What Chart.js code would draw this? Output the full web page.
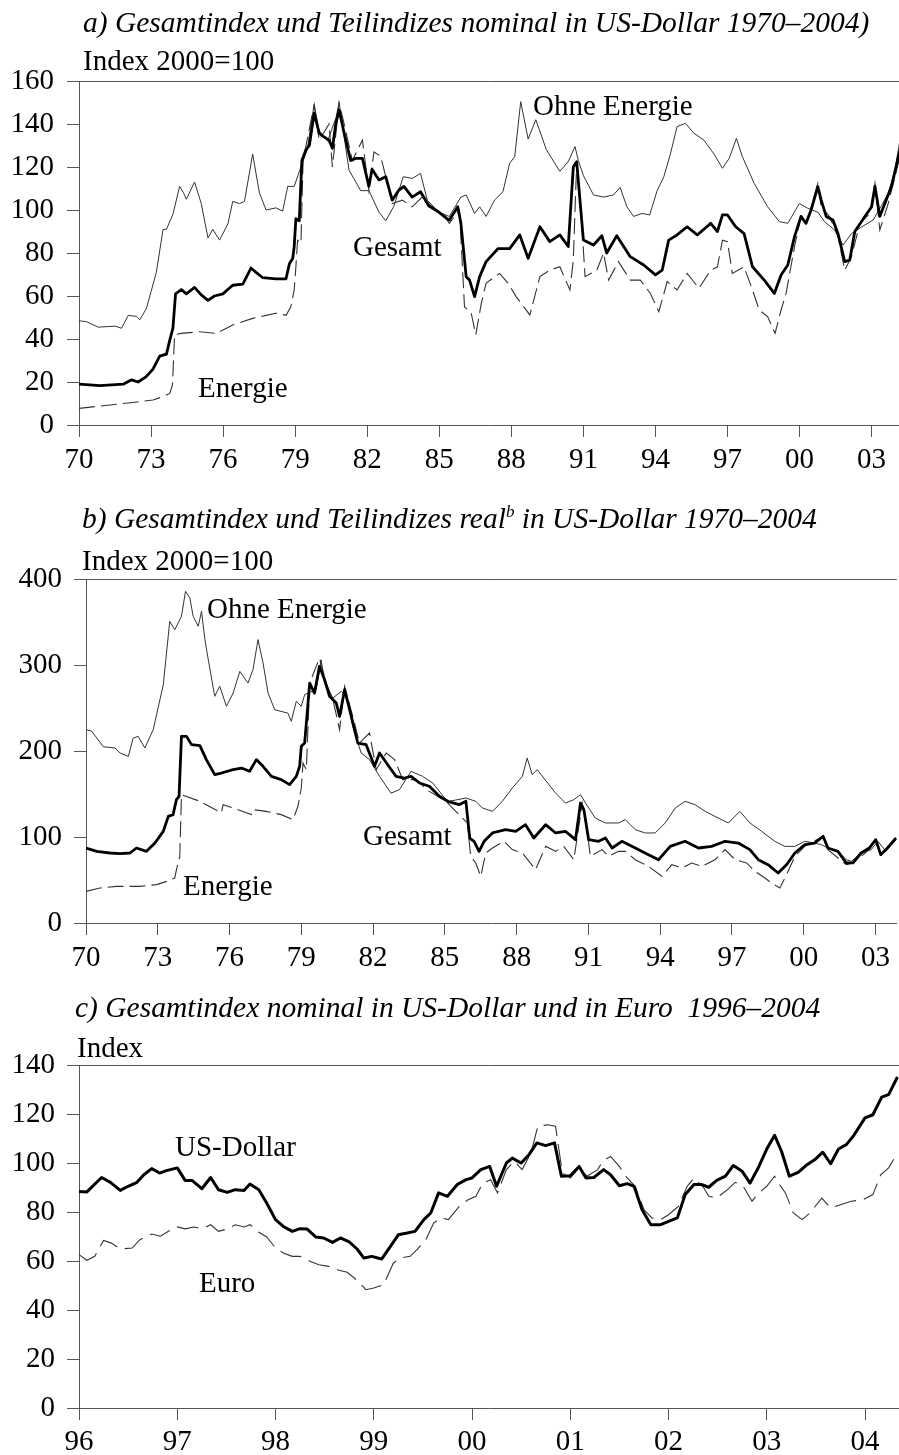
<!DOCTYPE html>
<html>
<head>
<meta charset="utf-8">
<script src="https://cdn.jsdelivr.net/npm/chart.js@4.4.1/dist/chart.umd.min.js"></script>
<style>
  body { margin: 0; background: #fff; width: 899px; height: 1455px; position: relative; overflow: hidden;
         font-family: "Liberation Serif", "Times New Roman", serif; color: #000; }
  canvas { position: absolute; left: 0; }
  .t { position: absolute; white-space: nowrap; line-height: 1; font-size: 29px; }
  .ti { font-style: italic; font-size: 29.5px; }
  .ti sup { font-size: 17px; vertical-align: 0; position: relative; top: -11px; }
</style>
</head>
<body>
<canvas id="chartA" width="899" height="480" style="top:0"></canvas>
<canvas id="chartB" width="899" height="500" style="top:480px"></canvas>
<canvas id="chartC" width="899" height="475" style="top:980px"></canvas>

<div class="t ti" style="left:83px;top:8px">a) Gesamtindex und Teilindizes nominal in US-Dollar 1970–2004)</div>
<div class="t" style="left:83px;top:46px">Index 2000=100</div>
<div class="t" style="left:533px;top:91px">Ohne Energie</div>
<div class="t" style="left:353px;top:232px">Gesamt</div>
<div class="t" style="left:198px;top:373px">Energie</div>

<div class="t ti" style="left:82px;top:504px">b) Gesamtindex und Teilindizes real<sup>b</sup> in US-Dollar 1970–2004</div>
<div class="t" style="left:82px;top:546px">Index 2000=100</div>
<div class="t" style="left:207px;top:594px">Ohne Energie</div>
<div class="t" style="left:363px;top:821px">Gesamt</div>
<div class="t" style="left:183px;top:871px">Energie</div>

<div class="t ti" style="left:75px;top:993px">c) Gesamtindex nominal in US-Dollar und in Euro&nbsp; 1996–2004</div>
<div class="t" style="left:77px;top:1033px">Index</div>
<div class="t" style="left:175px;top:1132px">US-Dollar</div>
<div class="t" style="left:199px;top:1268px">Euro</div>

<script>
// tick years
const yearTicksLong = [1970, 1973, 1976, 1979, 1982, 1985, 1988, 1991, 1994, 1997, 2000, 2003];
const yearTicksShort = [1996, 1997, 1998, 1999, 2000, 2001, 2002, 2003, 2004];

// a) nominal, [year, index]
const gesamtNominal = [[1970.0,19],[1970.87,18.3],[1971.84,19],[1972.19,21],[1972.46,20],[1972.8,22.5],[1973.08,26],[1973.36,32],[1973.64,33],[1973.78,39.5],[1973.91,45],[1974.02,61],[1974.26,63],[1974.47,61],[1974.81,64],[1975.09,60.5],[1975.37,58],[1975.64,60],[1975.99,61],[1976.4,65],[1976.82,65.5],[1977.16,73],[1977.37,71],[1977.65,68.5],[1978.2,68],[1978.62,68],[1978.76,75],[1978.9,77.5],[1978.96,83],[1979.03,96],[1979.17,95],[1979.28,123],[1979.45,128],[1979.59,130],[1979.79,145],[1980.0,135.7],[1980.2,134],[1980.41,132.5],[1980.55,128.7],[1980.69,140],[1980.83,146.5],[1981.04,135.7],[1981.31,123],[1981.52,124],[1981.8,124],[1982.07,111],[1982.2,119],[1982.49,114],[1982.77,115.5],[1983.04,104.6],[1983.32,109.3],[1983.53,111],[1983.87,106],[1984.22,108.5],[1984.56,102],[1984.98,99],[1985.32,96],[1985.42,95.3],[1985.77,101.5],[1985.9,93.8],[1986.12,69],[1986.26,67.4],[1986.47,59.7],[1986.68,69],[1986.95,76],[1987.44,82],[1987.93,82],[1988.35,88.4],[1988.7,77.5],[1989.19,92.2],[1989.6,85.3],[1990.02,88.4],[1990.37,83],[1990.58,120],[1990.72,122.5],[1991.0,86],[1991.42,83.7],[1991.77,88],[1991.97,80],[1992.39,88],[1992.95,78.3],[1993.51,74.4],[1994.0,69.8],[1994.28,72],[1994.55,86],[1994.9,88.4],[1995.32,92.2],[1995.74,88.4],[1996.3,93.8],[1996.58,90],[1996.79,97.7],[1997.0,97.7],[1997.34,92.2],[1997.69,89],[1998.04,73.6],[1998.53,67.4],[1998.95,61.2],[1999.23,69.8],[1999.51,74.4],[1999.79,87.6],[2000.06,97],[2000.27,93.8],[2000.48,100],[2000.76,110.9],[2000.9,104.6],[2001.11,97],[2001.39,95.3],[2001.6,89],[2001.88,76],[2002.09,76.7],[2002.3,90],[2002.72,97],[2003.0,101.5],[2003.14,111],[2003.34,97],[2003.55,103],[2003.83,111],[2004.18,128]];
const ohneNominal = [[1970.0,48.5],[1970.32,48],[1970.8,45.5],[1971.5,46],[1971.77,45],[1972.05,51],[1972.4,50.5],[1972.53,49],[1972.8,54],[1973.0,62],[1973.22,71],[1973.5,91],[1973.64,91],[1973.91,98],[1974.19,111],[1974.35,108],[1974.47,105],[1974.81,113],[1975.09,103],[1975.37,87],[1975.57,91],[1975.85,86],[1976.2,93.5],[1976.4,104],[1976.68,103],[1976.89,104],[1977.23,126],[1977.51,108],[1977.79,100],[1978.2,101],[1978.48,99.5],[1978.69,111],[1978.96,111],[1979.24,120],[1979.5,128],[1979.79,149],[1980.0,137],[1980.35,132],[1980.7,143],[1980.83,150],[1981.24,118.6],[1981.73,109],[1982.07,109],[1982.49,99],[1982.77,95],[1983.1,101.5],[1983.5,115.5],[1983.87,114.7],[1984.22,117],[1984.5,104.6],[1984.98,99],[1985.42,97],[1985.9,106],[1986.12,107],[1986.47,98.4],[1986.68,101.5],[1986.95,97],[1987.3,104.6],[1987.65,108.5],[1987.93,121.7],[1988.14,124.8],[1988.39,150.4],[1988.7,133],[1989.02,142],[1989.46,128],[1990.02,118],[1990.37,122.5],[1990.65,129.5],[1990.79,123],[1991.0,116],[1991.42,107],[1991.84,106],[1992.25,107],[1992.53,110.5],[1992.81,101.5],[1993.09,97],[1993.44,98.4],[1993.76,97.7],[1994.07,109],[1994.35,115.5],[1994.62,126],[1994.9,138.8],[1995.25,140.3],[1995.6,135.7],[1996.02,132.5],[1996.44,126],[1996.79,119.4],[1997.07,124],[1997.37,133.3],[1997.62,124.8],[1998.11,112.4],[1998.67,101.5],[1999.16,94.6],[1999.51,93.8],[1999.99,103],[2000.34,100.8],[2000.76,99],[2001.04,94.6],[2001.46,90.7],[2001.81,83.7],[2002.16,89],[2002.57,92],[2003.06,95.3],[2003.41,102],[2003.69,107.8],[2003.97,118.6],[2004.18,132.5]];
const energieNominal = [[1970.0,7.75],[1970.87,8.8],[1972.25,10.5],[1973.08,11.6],[1973.5,13.2],[1973.78,14.7],[1973.89,18.6],[1973.98,42],[1974.26,42.6],[1975.02,43.4],[1975.71,42.6],[1976.4,46.5],[1977.23,49.6],[1977.79,51],[1978.2,52],[1978.62,51],[1978.82,55],[1978.96,62.8],[1979.03,73.6],[1979.1,86],[1979.24,84.5],[1979.33,123],[1979.79,149],[1980.0,132.5],[1980.41,140],[1980.55,120],[1980.83,150],[1981.1,137],[1981.38,123],[1981.8,132.5],[1982.07,109],[1982.28,127],[1982.56,125],[1982.77,115.5],[1983.04,103],[1983.46,104.6],[1983.87,101.5],[1984.29,106],[1984.7,101.5],[1985.12,98.4],[1985.42,93.8],[1985.84,100],[1986.05,55],[1986.33,52],[1986.52,42],[1986.75,56.6],[1986.95,66],[1987.51,70.5],[1987.86,66],[1988.2,59.7],[1988.77,51.2],[1989.19,69],[1989.6,72],[1990.02,73.6],[1990.44,62.8],[1990.58,76.7],[1990.72,121.7],[1990.93,93.8],[1991.07,69],[1991.56,72],[1991.84,80],[1992.05,67.4],[1992.46,76],[1992.95,67.4],[1993.37,67.4],[1993.79,61.2],[1994.14,52.7],[1994.49,66.7],[1994.9,62.8],[1995.32,70.5],[1995.81,63.6],[1996.3,72],[1996.58,73.6],[1996.79,86],[1997.0,85.3],[1997.2,70.5],[1997.69,73.6],[1998.04,62.8],[1998.32,53.5],[1998.67,50.4],[1998.98,42.6],[1999.23,53.5],[1999.44,61.2],[1999.79,83],[2000.06,97],[2000.34,95.3],[2000.76,112.4],[2000.9,101.5],[2001.25,97],[2001.6,87.6],[2001.88,72],[2002.16,78.3],[2002.51,93.8],[2002.93,98.4],[2003.14,112.4],[2003.34,90.7],[2003.69,103],[2004.18,124.8]];

// b) real
const gesamtReal = [[1970.0,87.2],[1970.45,83.3],[1971.0,81.4],[1971.42,80.6],[1971.84,81.4],[1972.11,87.2],[1972.53,83.3],[1972.88,93],[1973.23,106.6],[1973.44,124],[1973.64,126],[1973.78,143.4],[1973.89,147.3],[1973.99,217],[1974.2,217],[1974.41,207.4],[1974.76,206.2],[1975.03,190],[1975.38,172.5],[1975.66,174.4],[1976.15,178.3],[1976.5,180.2],[1976.84,176.4],[1977.12,190],[1977.4,182.2],[1977.75,170.5],[1978.16,166.7],[1978.51,160.9],[1978.79,170.5],[1978.93,182.2],[1979.0,205.4],[1979.14,209.3],[1979.35,279],[1979.55,267.4],[1979.76,298.4],[1979.97,283],[1980.18,263.6],[1980.46,255.8],[1980.6,240.3],[1980.81,271.3],[1981.02,248],[1981.36,209.3],[1981.71,207.4],[1982.06,182.2],[1982.27,197.7],[1982.61,184],[1982.96,170.5],[1983.31,168.6],[1983.59,170.5],[1983.94,162.8],[1984.35,159],[1984.77,147.3],[1985.12,141.5],[1985.6,137.6],[1985.88,141.5],[1986.04,98.8],[1986.22,95],[1986.43,83.3],[1986.64,95],[1986.99,104.7],[1987.54,108.5],[1987.96,106.6],[1988.37,114.3],[1988.72,98.8],[1989.21,114.3],[1989.63,104.7],[1990.04,106.6],[1990.46,96.9],[1990.67,139.5],[1990.81,131.8],[1991.01,96.9],[1991.43,95],[1991.71,98.8],[1991.99,87.2],[1992.4,95],[1992.96,87.2],[1993.51,79.5],[1993.93,73.6],[1994.42,89.1],[1995.04,95],[1995.6,87.2],[1996.15,89.1],[1996.71,95],[1997.26,93],[1997.75,85.3],[1998.1,73.6],[1998.51,67.8],[1998.93,58.1],[1999.28,67.8],[1999.63,81.4],[2000.04,91],[2000.46,93],[2000.81,100.8],[2001.01,87.2],[2001.43,83.3],[2001.78,69.8],[2002.06,69.8],[2002.4,81.4],[2002.74,87.2],[2003.01,96.9],[2003.22,79.5],[2003.5,87.2],[2003.86,98.8]];
const ohneReal = [[1970.0,224.8],[1970.24,223],[1970.72,205],[1971.21,203.5],[1971.42,197.7],[1971.77,193.8],[1971.97,215],[1972.18,217],[1972.46,203.5],[1972.81,224.8],[1973.23,277],[1973.5,350.8],[1973.71,341],[1973.99,356.6],[1974.16,385.7],[1974.34,378],[1974.48,356.6],[1974.69,345],[1974.83,362.4],[1974.97,329.5],[1975.1,308],[1975.38,263.6],[1975.59,275.2],[1975.87,252],[1976.15,267.4],[1976.43,292.6],[1976.77,279],[1976.98,294.6],[1977.19,329.5],[1977.4,302.3],[1977.61,267.4],[1977.89,248],[1978.44,244],[1978.58,234.5],[1978.79,257.8],[1979.0,252],[1979.14,265.5],[1979.62,271.3],[1979.83,306],[1979.97,279],[1980.32,261.6],[1980.67,269.4],[1980.88,263.6],[1981.15,228.7],[1981.5,197.7],[1981.85,190],[1982.27,170.5],[1982.75,151],[1983.1,155],[1983.59,176.4],[1984.07,170.5],[1984.49,162.8],[1985.05,143.4],[1985.18,141.5],[1985.88,145.3],[1986.29,141.5],[1986.57,133.7],[1986.99,129.8],[1987.4,141.5],[1987.82,157],[1988.24,170.5],[1988.44,191.9],[1988.65,172.5],[1988.86,178.3],[1989.35,160.9],[1989.63,151],[1990.04,139.5],[1990.39,143.4],[1990.67,149.2],[1990.88,139.5],[1991.29,122],[1991.71,116.3],[1992.26,116.3],[1992.54,120.2],[1992.96,108.5],[1993.38,104.7],[1993.79,104.7],[1994.21,116.3],[1994.63,133.7],[1995.04,141.5],[1995.46,137.6],[1995.88,129.8],[1996.29,124],[1996.85,116.3],[1997.33,129.8],[1997.75,116.3],[1998.24,106.6],[1998.79,95],[1999.21,89.1],[1999.63,89.1],[2000.04,95],[2000.46,93],[2000.74,91],[2001.01,87.2],[2001.43,83.3],[2001.78,73.6],[2001.99,71.7],[2002.4,81.4],[2002.82,85.3],[2003.1,95],[2003.38,85.3],[2003.65,91],[2003.86,96.9]];
const energieReal = [[1970.0,36.8],[1970.58,40.7],[1971.28,42.6],[1972.25,42.6],[1972.95,44.6],[1973.37,48.4],[1973.71,52.3],[1973.78,62],[1973.92,77.5],[1973.99,149.2],[1974.76,141.5],[1975.66,128],[1975.73,137.6],[1976.15,133.7],[1976.91,126],[1976.98,131.8],[1977.54,129.8],[1978.16,126],[1978.65,120.2],[1978.86,135.7],[1979.0,157],[1979.07,186],[1979.21,178.3],[1979.35,279],[1979.76,308],[1980.04,279],[1980.32,259.7],[1980.6,224.8],[1980.81,275],[1981.15,240.3],[1981.43,209.3],[1981.85,221],[1982.13,178.3],[1982.55,197.7],[1982.9,190],[1983.24,166.7],[1983.8,166.7],[1984.35,153],[1985.05,141.5],[1985.18,137.6],[1985.94,116.3],[1986.08,77.5],[1986.29,69.8],[1986.5,54.3],[1986.71,81.4],[1986.99,87.2],[1987.47,95],[1987.82,85.3],[1988.24,81.4],[1988.79,62],[1989.21,89.1],[1989.63,83.3],[1989.97,89.1],[1990.39,73.6],[1990.6,112.4],[1990.74,139.5],[1990.94,108.5],[1991.08,77.5],[1991.57,85.3],[1991.85,77.5],[1992.26,83.3],[1992.54,83.3],[1992.96,73.6],[1993.51,65.9],[1994.07,54.3],[1994.49,67.8],[1994.9,64],[1995.32,69.8],[1995.74,65.9],[1996.29,73.6],[1996.71,85.3],[1997.13,73.6],[1997.61,69.8],[1997.96,60],[1998.38,52.3],[1998.65,46.5],[1999.0,40.7],[1999.28,56.2],[1999.63,77.5],[2000.04,89.1],[2000.81,100.8],[2001.01,85.3],[2001.78,67.8],[2002.06,69.8],[2002.74,85.3],[2003.01,96.9],[2003.22,77.5],[2003.86,96.9]];

// c) nominal, US-Dollar vs Euro
const usDollar = [[1996.0,88.4],[1996.08,88.2],[1996.23,94.1],[1996.32,92.1],[1996.42,88.8],[1996.5,90.5],[1996.59,92.1],[1996.66,95.2],[1996.74,97.7],[1996.82,95.9],[1996.89,96.9],[1997.0,98],[1997.08,92.9],[1997.15,92.9],[1997.25,89.5],[1997.34,94.1],[1997.42,89.1],[1997.51,88],[1997.59,89.1],[1997.68,88.8],[1997.74,91.4],[1997.83,89.1],[1997.91,83.7],[1998.0,76.9],[1998.08,74.1],[1998.17,72.1],[1998.25,73.2],[1998.32,73.1],[1998.41,69.8],[1998.49,69.4],[1998.58,67.6],[1998.66,69.4],[1998.75,67.8],[1998.83,64.9],[1998.9,61.2],[1998.98,61.9],[1999.08,60.8],[1999.17,66],[1999.25,70.7],[1999.34,71.4],[1999.42,72.1],[1999.51,76.9],[1999.58,79.6],[1999.66,87.8],[1999.75,86.4],[1999.85,91.2],[1999.94,93.2],[2000.0,93.9],[2000.09,97.3],[2000.18,98.6],[2000.25,90.5],[2000.35,100],[2000.41,102],[2000.5,100],[2000.58,103.4],[2000.66,108.2],[2000.75,107.1],[2000.84,108.2],[2000.91,94.6],[2001.0,94.8],[2001.09,98.6],[2001.16,93.9],[2001.24,94.1],[2001.34,97.3],[2001.41,95.2],[2001.5,90.7],[2001.58,91.6],[2001.65,90.5],[2001.73,81],[2001.82,74.8],[2001.92,74.8],[2002.0,76.2],[2002.09,77.6],[2002.17,87.1],[2002.26,91.2],[2002.34,91.2],[2002.41,90.1],[2002.49,92.9],[2002.58,94.6],[2002.66,99],[2002.75,96.6],[2002.83,91.8],[2002.92,98.6],[2003.0,105.7],[2003.08,111.3],[2003.15,104.8],[2003.23,94.6],[2003.32,96.2],[2003.41,99.3],[2003.49,101.4],[2003.57,104.4],[2003.65,99.7],[2003.73,105.7],[2003.81,107.5],[2003.88,110.9],[2004.0,118.4],[2004.08,119.7],[2004.17,126.9],[2004.24,127.9],[2004.33,135.1]];
const euro = [[1996.0,62.6],[1996.08,60.3],[1996.16,61.9],[1996.25,68.4],[1996.33,67.3],[1996.42,64.9],[1996.54,65.3],[1996.62,68.7],[1996.74,71],[1996.83,70.1],[1996.91,72.1],[1997.0,73.9],[1997.08,73.1],[1997.17,73.9],[1997.25,73.1],[1997.34,74.8],[1997.42,72.1],[1997.51,73.1],[1997.59,74.8],[1997.68,73.9],[1997.74,74.8],[1997.83,71.7],[1997.91,69.8],[1998.0,65.3],[1998.08,63.3],[1998.17,61.9],[1998.25,61.9],[1998.35,59.9],[1998.44,58.5],[1998.54,57.8],[1998.62,56.5],[1998.73,55.4],[1998.83,52.1],[1998.92,48.3],[1999.0,49],[1999.1,50.3],[1999.2,59.2],[1999.27,61.2],[1999.37,61.9],[1999.44,64.6],[1999.53,68.7],[1999.61,75.5],[1999.68,77.6],[1999.76,76.9],[1999.87,82.3],[1999.96,85],[2000.04,86.4],[2000.11,91.8],[2000.19,93.2],[2000.26,87.8],[2000.35,97.3],[2000.43,100.7],[2000.51,97.3],[2000.6,104.1],[2000.67,115],[2000.77,115.6],[2000.85,115],[2000.92,95.9],[2001.0,93.9],[2001.09,98],[2001.17,94.6],[2001.28,97.3],[2001.33,100.7],[2001.41,102.7],[2001.5,98.6],[2001.58,93.9],[2001.66,90.5],[2001.75,81],[2001.83,77.6],[2001.92,76.9],[2002.0,78.9],[2002.1,82.3],[2002.19,90.5],[2002.26,93.9],[2002.36,89.8],[2002.41,86.4],[2002.49,85.7],[2002.6,89.1],[2002.68,92.1],[2002.76,90.5],[2002.85,84.4],[2002.92,87.8],[2003.0,90.5],[2003.08,94.6],[2003.12,91.8],[2003.19,87.8],[2003.27,79.6],[2003.36,76.9],[2003.44,79.6],[2003.56,85.7],[2003.65,81.6],[2003.75,83],[2003.86,84.4],[2003.98,85],[2004.08,87.1],[2004.16,95.2],[2004.24,98],[2004.32,103.4]];

const AXIS_COLOR = "#555";
const FONT = { family: "'Liberation Serif', 'Times New Roman', serif", size: 29, lineHeight: 1 };

function toXY(pairs) {
  return pairs.map((p) => ({ x: p[0], y: p[1] }));
}

function solid(label, pairs, width, color) {
  return { label, data: toXY(pairs), borderColor: color, borderWidth: width,
           pointRadius: 0, tension: 0, borderJoinStyle: "round", fill: false };
}

function dashed(label, pairs, dash) {
  return { label, data: toXY(pairs), borderColor: "#333", borderWidth: 1.1, borderDash: dash,
           pointRadius: 0, tension: 0, fill: false };
}

function makePanel(canvasId, cfg) {
  const ctx = document.getElementById(canvasId).getContext("2d");
  return new Chart(ctx, {
    type: "line",
    data: { datasets: cfg.datasets },
    options: {
      responsive: false,
      animation: false,
      events: [],
      layout: { padding: { top: cfg.top, left: 0, right: 0, bottom: 0 } },
      plugins: { legend: { display: false }, tooltip: { enabled: false } },
      scales: {
        x: {
          type: "linear",
          min: cfg.xMin,
          max: cfg.xMax,
          afterBuildTicks: (scale) => { scale.ticks = cfg.xTicks.map((v) => ({ value: v })); },
          afterFit: (scale) => { scale.height = cfg.xHeight; },
          ticks: {
            font: FONT, color: "#000", padding: cfg.xPad, maxRotation: 0, autoSkip: false,
            callback: (v) => String(v % 100).padStart(2, "0"),
          },
          grid: { drawOnChartArea: false, drawTicks: true, tickLength: 12, color: AXIS_COLOR },
          border: { display: true, color: AXIS_COLOR, width: 1 },
        },
        y: {
          min: 0,
          max: cfg.yMax,
          afterFit: (scale) => { scale.width = cfg.yWidth; },
          ticks: { stepSize: cfg.yStep, font: FONT, color: "#000", padding: cfg.yPad },
          grid: {
            drawTicks: true, tickLength: 12, tickColor: AXIS_COLOR,
            color: (c) => (c.tick && c.tick.value === cfg.yMax ? AXIS_COLOR : "rgba(0,0,0,0)"),
          },
          border: { display: true, color: AXIS_COLOR, width: 1 },
        },
      },
    },
  });
}

makePanel("chartA", {
  datasets: [
    solid("Gesamt", gesamtNominal, 2.8, "#000"),
    solid("Ohne Energie", ohneNominal, 1, "#333"),
    dashed("Energie", energieNominal, [16, 6]),
  ],
  top: 81, xHeight: 55, yWidth: 79, xPad: 9, yPad: 13,
  xMin: 1970, xMax: 2004.14, xTicks: yearTicksLong, yMax: 160, yStep: 20,
});

makePanel("chartB", {
  datasets: [
    solid("Gesamt", gesamtReal, 2.8, "#000"),
    solid("Ohne Energie", ohneReal, 1, "#333"),
    dashed("Energie", energieReal, [16, 6]),
  ],
  top: 99, xHeight: 57, yWidth: 86, xPad: 9, yPad: 12,
  xMin: 1970, xMax: 2003.89, xTicks: yearTicksLong, yMax: 400, yStep: 100,
});

makePanel("chartC", {
  datasets: [
    solid("US-Dollar", usDollar, 3, "#000"),
    dashed("Euro", euro, [22, 8]),
  ],
  top: 85, xHeight: 47, yWidth: 79, xPad: 8, yPad: 12,
  xMin: 1996, xMax: 2004.346, xTicks: yearTicksShort, yMax: 140, yStep: 20,
});
</script>
</body>
</html>
